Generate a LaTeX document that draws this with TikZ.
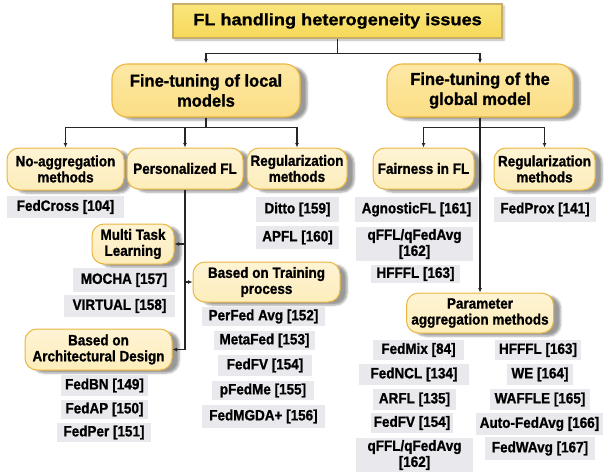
\documentclass[tikz,border=0pt]{standalone}
\usepackage{fontspec}
\setmainfont{Liberation Sans}[BoldFeatures={FakeBold=1}]
\newfontfamily\narrowsans{Liberation Sans}[FakeStretch=0.9, BoldFeatures={FakeBold=1}]
\newfontfamily\headsans{Liberation Sans}[FakeStretch=0.96, BoldFeatures={FakeBold=1}]
\newfontfamily\widesans{Liberation Sans}[FakeStretch=1.1, BoldFeatures={FakeBold=1}]
\usetikzlibrary{shadows.blur,arrows.meta}

\definecolor{linec}{HTML}{262626}
\definecolor{titletop}{HTML}{FAE57C}
\definecolor{titlebot}{HTML}{F6D95A}
\definecolor{titleedge}{HTML}{C8AE68}
\definecolor{mainfill}{HTML}{FBDD84}
\definecolor{mainfilltop}{HTML}{FDE8A4}
\definecolor{subfill}{HTML}{FDEDBB}
\definecolor{subfilltop}{HTML}{FEF4D4}
\definecolor{yedge}{HTML}{EBB640}
\definecolor{graybg}{HTML}{E9E9ED}

\begin{document}
\begin{tikzpicture}[x=1pt,y=-1pt,
  every node/.style={text=black, inner sep=0pt, align=center},
  titlebox/.style={rectangle, draw=titleedge, line width=1.2pt,
    top color=titletop, bottom color=titlebot,
    blur shadow={shadow xshift=2pt, shadow yshift=-2pt, shadow opacity=30},
    font=\widesans\fontsize{16.5}{20}\selectfont\bfseries},
  mainbox/.style={rectangle, rounded corners=15pt, draw=yedge, line width=1.1pt,
    top color=mainfilltop, bottom color=mainfill,
    blur shadow={shadow xshift=7pt, shadow yshift=-3pt, shadow opacity=40},
    font=\headsans\fontsize{17.2}{20}\selectfont\bfseries},
  subbox/.style={rectangle, rounded corners=12pt, draw=yedge, line width=1pt,
    top color=subfilltop, bottom color=subfill,
    blur shadow={shadow xshift=7pt, shadow yshift=-3pt, shadow opacity=40},
    font=\narrowsans\fontsize{15}{16}\selectfont\bfseries},
  refbox/.style={rectangle, fill=graybg,
    font=\narrowsans\fontsize{15}{16}\selectfont\bfseries},
  link/.style={draw=linec, line width=1.1pt},
  arr/.style={link, -{Latex[length=4.5pt,width=4pt]}}
]
\useasboundingbox (0,0) rectangle (604,472);

% root and the two main branches
\node[titlebox, minimum width=329pt, minimum height=34pt] (root) at (337.5,21) {FL handling heterogeneity issues};
\node[mainbox, minimum width=188pt, minimum height=53pt] (local) at (206,90.5) {Fine-tuning of local\\models};
\node[mainbox, minimum width=186pt, minimum height=53pt] (global) at (480,90.5) {Fine-tuning of the\\global model};

% second level
\node[subbox, minimum width=117pt, minimum height=42pt] (noagg) at (65.5,169) {No-aggregation\\methods};
\node[subbox, minimum width=116pt, minimum height=41pt] (pers) at (185,168.5) {Personalized FL};
\node[subbox, minimum width=100pt, minimum height=41pt] (regl) at (297,168.5) {Regularization\\methods};
\node[subbox, minimum width=101pt, minimum height=41pt] (fair) at (423.5,168.5) {Fairness in FL};
\node[subbox, minimum width=101pt, minimum height=42pt] (regr) at (544.5,169) {Regularization\\methods};

% third level
\node[subbox, minimum width=82pt, minimum height=40pt] (mtl) at (133,244) {Multi Task\\Learning};
\node[subbox, minimum width=147pt, minimum height=40pt] (train) at (266.5,282) {Based on Training\\process};
\node[subbox, minimum width=147pt, minimum height=41pt] (arch) at (98.5,349.5) {Based on\\Architectural Design};
\node[subbox, minimum width=147pt, minimum height=40pt] (param) at (480,313) {Parameter\\aggregation methods};

% reference lists
\node[refbox, minimum width=117pt, minimum height=22pt] (fedcross) at (65.5,207) {FedCross [104]};
\node[refbox, minimum width=83pt, minimum height=25pt] (ditto) at (297.5,209.5) {Ditto [159]};
\node[refbox, minimum width=83pt, minimum height=23pt] (apfl) at (297.5,237.5) {APFL [160]};
\node[refbox, minimum width=102pt, minimum height=24pt] (mocha) at (124,280) {MOCHA [157]};
\node[refbox, minimum width=111pt, minimum height=22pt] (virtual) at (119.5,306) {VIRTUAL [158]};
\node[refbox, minimum width=87pt, minimum height=21pt] (fedbn) at (104.5,385.5) {FedBN [149]};
\node[refbox, minimum width=87pt, minimum height=19pt] (fedap) at (104.5,409.5) {FedAP [150]};
\node[refbox, minimum width=94pt, minimum height=19pt] (fedper) at (104,432.5) {FedPer [151]};
\node[refbox, minimum width=123pt, minimum height=19pt] (perfed) at (263.5,316.5) {PerFed Avg [152]};
\node[refbox, minimum width=101pt, minimum height=19pt] (metafed) at (264.5,340.5) {MetaFed [153]};
\node[refbox, minimum width=94pt, minimum height=21pt] (fedfva) at (265,365.5) {FedFV [154]};
\node[refbox, minimum width=102pt, minimum height=19pt] (pfedme) at (263,390.5) {pFedMe [155]};
\node[refbox, minimum width=123pt, minimum height=23pt] (fedmgda) at (263.5,416.5) {FedMGDA+ [156]};
\node[refbox, minimum width=123pt, minimum height=25pt] (agnostic) at (416.5,209.5) {AgnosticFL [161]};
\node[refbox, minimum width=117pt, minimum height=34pt] (qffla) at (414.5,244) {qFFL/qFedAvg\\{[162]}};
\node[refbox, minimum width=89pt, minimum height=18pt] (hfffla) at (415.5,274) {HFFFL [163]};
\node[refbox, minimum width=102pt, minimum height=25pt] (fedprox) at (545,209.5) {FedProx [141]};
\node[refbox, minimum width=91pt, minimum height=20pt] (fedmix) at (418.5,350) {FedMix [84]};
\node[refbox, minimum width=110pt, minimum height=21pt] (fedncl) at (414,374.5) {FedNCL [134]};
\node[refbox, minimum width=83pt, minimum height=21pt] (arfl) at (414.5,399.5) {ARFL [135]};
\node[refbox, minimum width=82pt, minimum height=20pt] (fedfvb) at (412,423) {FedFV [154]};
\node[refbox, minimum width=117pt, minimum height=34pt] (qfflb) at (414.5,455) {qFFL/qFedAvg\\{[162]}};
\node[refbox, minimum width=86pt, minimum height=20pt] (hffflb) at (538,350) {HFFFL [163]};
\node[refbox, minimum width=66pt, minimum height=21pt] (we) at (540,374.5) {WE [164]};
\node[refbox, minimum width=100pt, minimum height=21pt] (waffle) at (540,399.5) {WAFFLE [165]};
\node[refbox, minimum width=127pt, minimum height=22pt] (autofed) at (539.5,424) {Auto-FedAvg [166]};
\node[refbox, minimum width=110pt, minimum height=23pt] (fedwavg) at (540,448.5) {FedWAvg [167]};

% connectors
\draw[arr] (root.south) -- ++(0,15) -| (local.north);
\draw[arr] (root.south) -- ++(0,15) -| (global.north);

\draw[arr] (local.south) -- ++(0,10) -| (noagg.north);
\draw[arr] (local.south) -- ++(0,10) -| (pers.north);
\draw[arr] (local.south) -- ++(0,10) -| (regl.north);

\draw[arr] (global.south) -- ++(0,10) -| (fair.north);
\draw[arr] (global.south) -- ++(0,10) -| (regr.north);
\draw[arr] (global.south) -- (param.north);

\draw[arr] (pers.south) |- (mtl.east);
\draw[arr] (pers.south) |- (train.west);
\draw[arr] (pers.south) |- (arch.east);
\end{tikzpicture}
\end{document}
